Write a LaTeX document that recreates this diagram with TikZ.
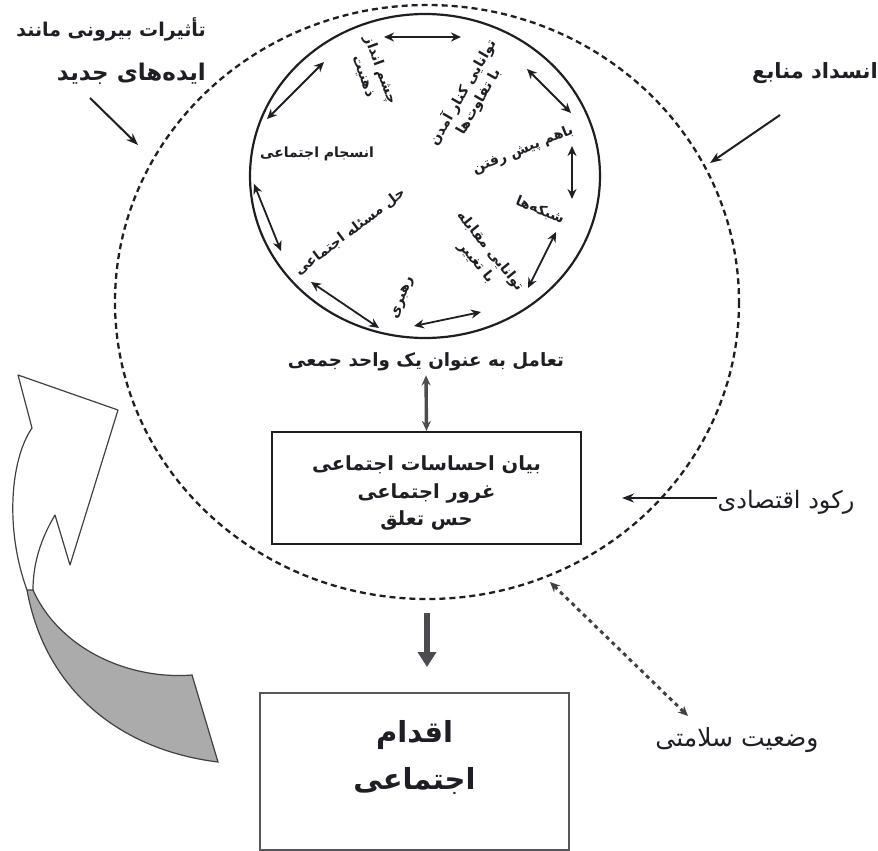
\documentclass[tikz,border=0pt]{standalone}
\usepackage{fontspec}
\usetikzlibrary{arrows.meta}
\TeXXeTstate=1
\newfontfamily\farsi[Script=Arabic]{DejaVu Sans}
\definecolor{ink}{HTML}{1E1E24}
\definecolor{band}{HTML}{ABABAB}
\begin{document}
\begin{tikzpicture}[x=1pt,y=-1pt,
	lbl/.style={font=\farsi\bfseries\fontsize{14}{18}\selectfont,text=ink,align=center,inner sep=0pt},
	mid/.style={font=\farsi\bfseries\fontsize{18.3}{27}\selectfont,text=ink,align=center,inner sep=0pt},
	side/.style={font=\farsi\bfseries\fontsize{19}{44}\selectfont,text=ink,align=center,inner sep=0pt},
	pair/.style={{Stealth[length=10pt,width=9pt]}-{Stealth[length=10pt,width=9pt]},line width=1.8pt,ink},
	push/.style={-{Stealth[length=12pt,width=9pt]},line width=2pt,ink}]
	\useasboundingbox (0,0) rectangle (878,851);
	
	%Vòng ngoài
	\draw[ink,line width=2.3pt,dash pattern=on 6pt off 4pt] (427,302) ellipse (312 and 297);
	%Vòng trong
	\draw[ink,line width=2.2pt] (425,176) ellipse (175 and 162);
	
	%---------chữ trong vòng
	\node[lbl,rotate=-70] (vision) at (372,73) {\beginR چشم انداز\endR\\\beginR ذهنیت\endR};
	\node[lbl,rotate=60] (differ) at (470,97) {\beginR توانایی کنار آمدن\endR\\\beginR با تفاوت‌ها\endR};
	\node[lbl,rotate=22] (together) at (523,150) {\beginR باهم پیش رفتن\endR};
	\node[lbl,rotate=-22] (network) at (540,210) {\beginR شبکه‌ها\endR};
	\node[lbl,rotate=-51] (change) at (483,257) {\beginR توانایی مقابله\endR\\\beginR با تغییر\endR};
	\node[lbl,rotate=70] (leader) at (403,298) {\beginR رهبری\endR};
	\node[lbl,rotate=37] (solve) at (350,232) {\beginR حل مسئله اجتماعی\endR};
	\node[lbl] (cohesion) at (317,154) {\beginR انسجام اجتماعی\endR};
	
	%---------mũi tên trong vòng
	\foreach \n/\x/\y in {a1/384/37,a2/461/37,b1/527/69,b2/571/113,c1/572/146,c2/572/199,
		d1/556/232,d2/528/288,e1/414/326,e2/481/312,f1/311/282,f2/379/328,
		g1/254/184,g2/281/251,h1/324/62,h2/267/119}
	\coordinate (\n) at (\x,\y);
	\foreach \s/\e in {a1/a2,b1/b2,c1/c2,d1/d2,e2/e1,f1/f2,g1/g2,h1/h2}
	\draw[pair] (\s)--(\e);
	
	%---------giữa
	\node[mid] (unity) at (426,362) {\beginR تعامل به عنوان یک واحد جمعی\endR};
	\node[draw=ink,line width=2.2pt,minimum width=309pt,minimum height=112pt] (feelbox) at (426.5,488) {};
	\node[mid,font=\farsi\bfseries\fontsize{19.5}{27.5}\selectfont,yshift=-5pt] (feel) at (feelbox.center)
	{\beginR بیان احساسات اجتماعی\endR\\\beginR غرور اجتماعی\endR\\\beginR حس تعلق\endR};
	\draw[{Stealth[length=10pt,width=9pt]}-{Stealth[length=10pt,width=9pt]},line width=3.4pt,ink!80] (unity.south)+(0,4)--(feelbox.north);
	
	%---------hộp dưới
	\node[draw=ink!75,line width=1.5pt,minimum width=309pt,minimum height=157pt] (actbox) at (414.5,771.5) {};
	\node[font=\farsi\bfseries\fontsize{29}{47}\selectfont,text=ink,align=center,inner sep=0pt,yshift=14pt] (act) at (actbox.center)
	{\beginR اقدام\endR\\\beginR اجتماعی\endR};
	\coordinate (down1) at (427,613);
	\coordinate (down2) at (427,667);
	\draw[-{Triangle[length=15pt,width=18pt]},line width=6pt,ink!80] (down1)--(down2);
	
	%---------chữ ngoài
	\node[side,align=right,anchor=north east] (influence) at (206,17) {\beginR تأثیرات بیرونی مانند\endR\\\fontsize{23}{44}\selectfont\beginR ایده‌های جدید\endR};
	\node[side,font=\farsi\bfseries\fontsize{21}{24}\selectfont] (blockage) at (815,73) {\beginR انسداد منابع\endR};
	\node[side,font=\farsi\fontsize{24}{26}\selectfont] (recession) at (786,502) {\beginR رکود اقتصادی\endR};
	\node[side,font=\farsi\fontsize{25}{26}\selectfont] (health) at (737,740) {\beginR وضعیت سلامتی\endR};
	
	\coordinate (in1) at (90,98);
	\coordinate (in2) at (138,145);
	\draw[push] (in1)--(in2);
	\coordinate (bl1) at (780,115);
	\coordinate (bl2) at (710,163);
	\draw[push] (bl1)--(bl2);
	\coordinate (re2) at (622,498);
	\draw[push] (recession.west|-re2)--(re2);
	\coordinate (he1) at (550,582);
	\coordinate (he2) at (688,716);
	\draw[{Stealth[length=10pt,width=9pt]}-{Stealth[length=10pt,width=9pt]},line width=3pt,ink!85,dash pattern=on 4pt off 4pt] (he1)--(he2);
	
	%Mũi tên cong
	\def\B{ (27,590) .. controls (45,690) and (120,750) .. (218,762) -- (192,675)
		.. controls (130,680) and (60,650) .. (33,590) -- cycle;}
	\fill[band] \B;
	\draw[ink!85,line width=1.2pt] \B;
	\def\A{ (27,590) .. controls (5,530) and (10,460) .. (32,428) -- (18,375) -- (118,410)
		-- (70,565) -- (55,515) .. controls (40,540) and (33,565) .. (33,590);}
	\draw[ink!85,line width=1.2pt,line join=round] \A;
\end{tikzpicture}
\end{document}
